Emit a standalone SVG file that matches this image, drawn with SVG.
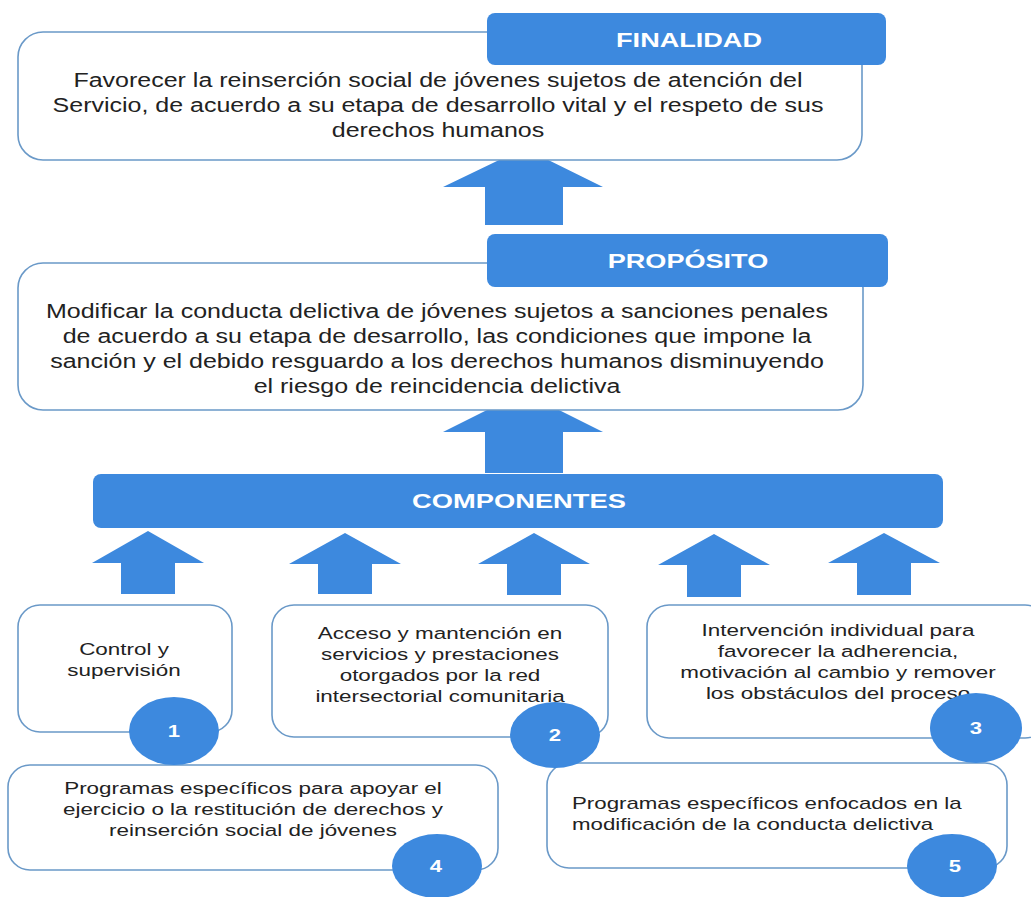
<svg xmlns="http://www.w3.org/2000/svg" width="1031" height="897" viewBox="0 0 1031 897">
<style>
.box{fill:#fff;stroke:#6a99c8;stroke-width:1.6}
.hdr{fill:#3d89de}
.arr{fill:#3d89de}
.num{fill:#3d89de}
.t{font-family:"Liberation Sans",Arial,sans-serif;font-size:20px;fill:#222;text-anchor:middle}
.s{font-family:"Liberation Sans",Arial,sans-serif;font-size:17px;fill:#222;text-anchor:middle}
.h{font-family:"Liberation Sans",Arial,sans-serif;font-size:21px;font-weight:bold;fill:#fff;text-anchor:middle}
.n{font-family:"Liberation Sans",Arial,sans-serif;font-size:17px;font-weight:bold;fill:#fff;text-anchor:middle}
</style>
<rect width="1031" height="897" fill="#fff"/>
<g id="connectors">
<polygon class="arr" points="524,148 603,187 563,187 563,225 485,225 485,187 443,187"/>
<polygon class="arr" points="523,392 603,432 563,432 563,473 485,473 485,432 443,432"/>
<polygon class="arr" points="148,531 204,563 175,563 175,594 121,594 121,563 92,563"/>
<polygon class="arr" points="345,533 401,564 372,564 372,594 318,594 318,564 289,564"/>
<polygon class="arr" points="534,533 590,564 561,564 561,595 507,595 507,564 478,564"/>
<polygon class="arr" points="714,534 770,565 741,565 741,597 687,597 687,565 658,565"/>
<polygon class="arr" points="884,533 940,563 911,563 911,595 857,595 857,563 828,563"/>
</g>
<g id="finalidad">
<rect class="box" x="18" y="32" width="844" height="128" rx="25"/>
<rect class="hdr" x="487" y="13" width="399" height="52" rx="8"/>
<g transform="translate(689 0) scale(1.29 1)"><text class="h" x="0" y="47">FINALIDAD</text></g>
<g transform="translate(438 0) scale(1.25 1)">
<text class="t" x="0" y="87">Favorecer la reinserción social de jóvenes sujetos de atención del</text>
<text class="t" x="0" y="112">Servicio, de acuerdo a su etapa de desarrollo vital y el respeto de sus</text>
<text class="t" x="0" y="137">derechos humanos</text>
</g>
</g>
<g id="proposito">
<rect class="box" x="18" y="263" width="845" height="147" rx="25"/>
<rect class="hdr" x="487" y="234" width="401" height="53" rx="8"/>
<g transform="translate(688 0) scale(1.29 1)"><text class="h" x="0" y="268">PROPÓSITO</text></g>
<g transform="translate(437 0) scale(1.25 1)">
<text class="t" x="0" y="318">Modificar la conducta delictiva de jóvenes sujetos a sanciones penales</text>
<text class="t" x="0" y="343">de acuerdo a su etapa de desarrollo, las condiciones que impone la</text>
<text class="t" x="0" y="368">sanción y el debido resguardo a los derechos humanos disminuyendo</text>
<text class="t" x="0" y="393">el riesgo de reincidencia delictiva</text>
</g>
</g>
<g id="componentes">
<rect class="hdr" x="93" y="474" width="850" height="54" rx="8"/>
<g transform="translate(519 0) scale(1.3 1)"><text class="h" x="0" y="508">COMPONENTES</text></g>
</g>
<g id="comp1">
<rect class="box" x="18" y="605" width="214" height="127" rx="22"/>
<g transform="translate(124 0) scale(1.32 1)">
<text class="s" x="0" y="655">Control y</text>
<text class="s" x="0" y="676">supervisión</text>
</g>
</g>
<g id="comp2">
<rect class="box" x="272" y="605" width="336" height="132" rx="22"/>
<g transform="translate(440 0) scale(1.32 1)">
<text class="s" x="0" y="639">Acceso y mantención en</text>
<text class="s" x="0" y="660">servicios y prestaciones</text>
<text class="s" x="0" y="681">otorgados por la red</text>
<text class="s" x="0" y="702">intersectorial comunitaria</text>
</g>
</g>
<g id="comp3">
<rect class="box" x="647" y="605" width="400" height="133" rx="22"/>
<g transform="translate(838 0) scale(1.32 1)">
<text class="s" x="0" y="636">Intervención individual para</text>
<text class="s" x="0" y="657">favorecer la adherencia,</text>
<text class="s" x="0" y="678">motivación al cambio y remover</text>
<text class="s" x="0" y="699">los obstáculos del proceso</text>
</g>
</g>
<g id="comp4">
<rect class="box" x="8" y="765" width="490" height="105" rx="22"/>
<g transform="translate(253 0) scale(1.32 1)">
<text class="s" x="0" y="794">Programas específicos para apoyar el</text>
<text class="s" x="0" y="815">ejercicio o la restitución de derechos y</text>
<text class="s" x="0" y="836">reinserción social de jóvenes</text>
</g>
</g>
<g id="comp5">
<rect class="box" x="547" y="763" width="460" height="105" rx="22"/>
<g transform="translate(572 0) scale(1.31 1)">
<text class="s" x="0" y="809" style="text-anchor:start">Programas específicos enfocados en la</text>
<text class="s" x="0" y="830" style="text-anchor:start">modificación de la conducta delictiva</text>
</g>
</g>
<g id="badges">
<g id="badge1"><ellipse class="num" cx="174" cy="731" rx="45" ry="34"/><g transform="translate(174 0) scale(1.3 1)"><text class="n" x="0" y="737">1</text></g></g>
<g id="badge2"><ellipse class="num" cx="555" cy="735" rx="45" ry="33"/><g transform="translate(555 0) scale(1.3 1)"><text class="n" x="0" y="741">2</text></g></g>
<g id="badge3"><ellipse class="num" cx="976" cy="728" rx="46" ry="35"/><g transform="translate(976 0) scale(1.3 1)"><text class="n" x="0" y="734">3</text></g></g>
<g id="badge4"><ellipse class="num" cx="437" cy="866" rx="45" ry="32"/><g transform="translate(436 0) scale(1.3 1)"><text class="n" x="0" y="872">4</text></g></g>
<g id="badge5"><ellipse class="num" cx="952" cy="866" rx="45" ry="32"/><g transform="translate(955 0) scale(1.3 1)"><text class="n" x="0" y="872">5</text></g></g>
</g>
</svg>
